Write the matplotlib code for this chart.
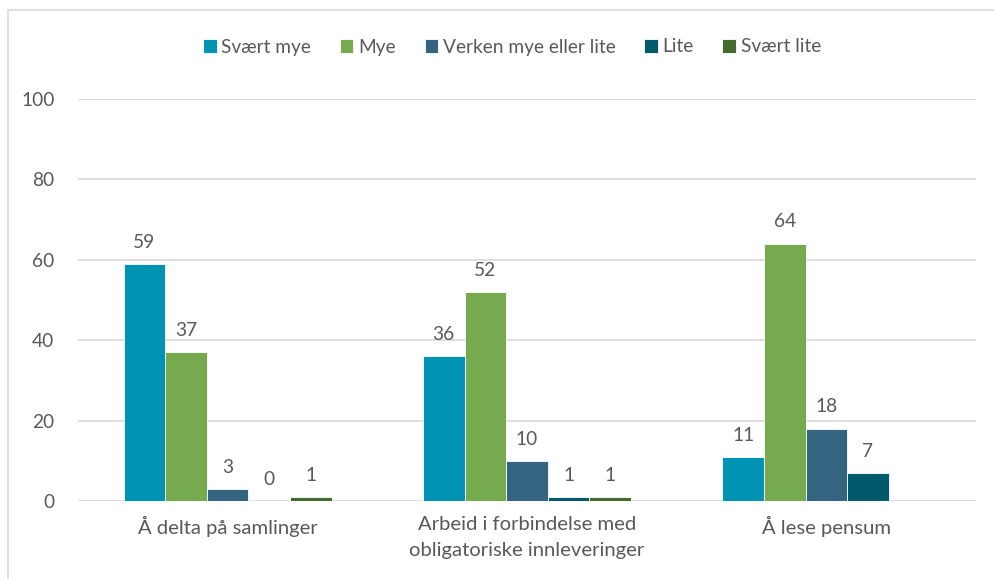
import matplotlib.pyplot as plt
import numpy as np
from matplotlib.patches import Rectangle

plt.rcParams['font.family'] = ['Lato', 'DejaVu Sans']

categories = ['Å delta på samlinger',
              'Arbeid i forbindelse med\nobligatoriske innleveringer',
              'Å lese pensum']
series = ['Svært mye', 'Mye', 'Verken mye eller lite', 'Lite', 'Svært lite']
svaert_mye = [59, 36, 11]
mye = [37, 52, 64]
verken = [3, 10, 18]
lite = [0, 1, 7]
svaert_lite = [1, 1, None]  # mangler for siste kategori
colors = ['#0093B4', '#75AA4F', '#336581', '#015A6B', '#456A2D']

values = [svaert_mye, mye, verken, lite, svaert_lite]
text_col = '#595959'
fs = 13.8

fig = plt.figure(figsize=(9.94, 5.79), dpi=100)
ax = fig.add_axes([78 / 994, 1 - 501 / 579, 898 / 994, 402 / 579])

# ramme rundt hele figuren (kuttet i høyre/nedre kant)
fig.patches.append(Rectangle((8 / 994, -0.05), 1.1, 1 - 10 / 579 + 0.05,
                             transform=fig.transFigure, fill=False,
                             edgecolor='#d9d9d9', linewidth=1.2))

x = np.arange(len(categories))
w = 0.139
for i, (name, vals, c) in enumerate(zip(series, values, colors)):
    pos = x + (i - 2) * w
    for p, v in zip(pos, vals):
        if v is None:
            continue
        ax.bar(p, v, width=w, color=c, edgecolor='white', linewidth=0.6,
               label=name if p == pos[0] else None, zorder=3)
        ax.text(p, v + 3.3, str(v), ha='center', va='bottom',
                fontsize=fs, color=text_col)

ax.set_xlim(-0.5, 2.5)
ax.set_ylim(0, 100)
ax.set_yticks(range(0, 101, 20))
ax.yaxis.grid(True, color='#d9d9d9', linewidth=1.2, zorder=0)
ax.set_axisbelow(True)
for s in ax.spines.values():
    s.set_visible(False)
ax.tick_params(length=0, labelsize=fs, labelcolor=text_col)
ax.tick_params(axis='y', pad=17)
ax.tick_params(axis='x', pad=11, labelsize=14.6)
ax.set_xticks(x)
ax.set_xticklabels(categories, linespacing=1.6)

fig.legend(loc='center', bbox_to_anchor=(512 / 994, 1 - 47 / 579), ncol=5,
           frameon=False, fontsize=fs, labelcolor=text_col,
           handlelength=0.7, handleheight=0.7, handletextpad=0.25,
           columnspacing=1.5)

fig.savefig('out.png', dpi=100)
